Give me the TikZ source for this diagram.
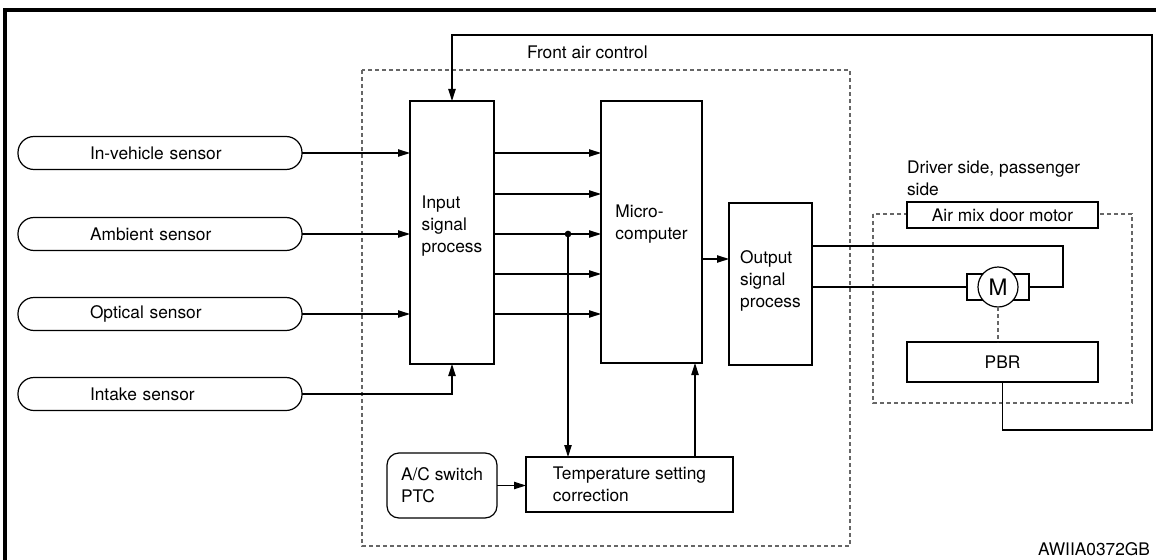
\documentclass[tikz,border=0pt]{standalone}
\usepackage{fontspec}
\setmainfont{TeX Gyre Heros}
\usetikzlibrary{arrows.meta}
\begin{document}
\begin{tikzpicture}[x=0.75pt,y=-0.75pt,
  font=\fontsize{13}{16.5}\selectfont,
  line width=0.9pt, line join=miter,
  every node/.style={inner sep=0pt, outer sep=0pt},
  box/.style={draw, fill=white, rectangle, align=left},
  pill/.style={draw, rectangle, rounded corners=12pt, minimum width=213pt, minimum height=24.75pt, text width=105pt, align=left, inner xsep=54pt},
  arr/.style={-{Triangle[length=9pt,width=5.5pt]}},
  dsh/.style={draw=black!60, line width=0.8pt, dash pattern=on 3pt off 2.25pt},
]
\useasboundingbox (0,0) rectangle (1156,560);
% frame
\draw[line width=2.8pt] (5,560) -- (5,10) -- (1156,10);

% dashed groups
\draw[dsh] (362,70) rectangle (850,546);
\draw[dsh] (873,214) rectangle (1132,403);
\node[anchor=west] (fac) at (527,52) {Front air control};
\node[anchor=west, align=left] (drv) at (907,178) {Driver side, passenger\\side};

% sensors
\node[pill] (s1) at (160,153) {In-vehicle sensor};
\node[pill] (s2) at (160,234) {Ambient sensor};
\node[pill] (s3) at (160,314) {Optical sensor};
\node[pill] (s4) at (160,394) {Intake sensor};

% main boxes
\node[box, minimum width=63pt, minimum height=197.25pt] (inp) at (452,232.5) {};
\node[align=left] (inpT) at (452,226) {Input\\signal\\process};
\node[box, minimum width=75.75pt, minimum height=196.5pt] (mic) at (651.5,232) {};
\node[align=left] (micT) at (651.5,224.5) {Micro-\\computer};
\node[box, minimum width=62.25pt, minimum height=121.5pt] (out) at (770.5,284) {};
\node[align=left] (outT) at (770.5,281) {Output\\signal\\process};
\node[box, minimum width=155.25pt, minimum height=41.25pt] (tmp) at (629.5,484.5) {Temperature setting\\correction};
\node[box, rounded corners=9pt, minimum width=82.5pt, minimum height=48.75pt] (ac) at (442,485.5) {A/C switch\\PTC};

% actuator side
\node[box, minimum width=143.25pt, minimum height=19.5pt] (amx) at (1002.5,215) {Air mix door motor};
\node[box, minimum width=143.25pt, minimum height=30pt] (pbr) at (1002.5,362) {PBR};
\node[box, minimum width=46.5pt, minimum height=19.5pt] (mrect) at (998,287) {};
\node[draw, circle, fill=white, minimum size=30pt, font=\fontsize{17}{17}\selectfont] (M) at (998,287) {M};

% helper coordinates
\coordinate (r2) at (0,194);
\coordinate (r4) at (0,274);
\coordinate (r6) at (0,259);
\coordinate (r7) at (0,246);
\coordinate (x695) at (695,0);
\coordinate (wr) at (1063,287);
\coordinate (c1) at (1152,430);
\coordinate (c2) at (1152,35);
\node[circle, fill, minimum size=5pt] (dot) at (568,234) {};

% sensor connections
\draw[arr] (s1.east) -- (s1 -| inp.west);
\draw[arr] (s2.east) -- (s2 -| inp.west);
\draw[arr] (s3.east) -- (s3 -| inp.west);
\draw[arr] (s4.east) -| (inp.south);

% input -> micro
\draw[arr] (inp.east |- s1) -- (mic.west |- s1);
\draw[arr] (inp.east |- r2) -- (mic.west |- r2);
\draw[arr] (inp.east |- s2) -- (mic.west |- s2);
\draw[arr] (inp.east |- r4) -- (mic.west |- r4);
\draw[arr] (inp.east |- s3) -- (mic.west |- s3);

% temperature correction
\draw[arr] (dot.center) -- (dot |- tmp.north);
\draw[arr] (tmp.north -| x695) -- (mic.south -| x695);
\draw[arr] (ac.east) -- (ac -| tmp.west);

% micro -> output
\draw[arr] (mic.east |- r6) -- (out.west |- r6);

% output -> motor
\draw (out.east |- r7) -| (wr) -- (mrect.east);
\draw (out.east |- mrect.west) -- (mrect.west);
\draw[dsh] (M.south) -- (M.south |- pbr.north);

% feedback
\draw[arr] (pbr.south) |- (c1) -- (c2) -| (inp.north);

\node[anchor=east] (code) at (1150,549) {AWIIA0372GB};
\end{tikzpicture}
\end{document}
